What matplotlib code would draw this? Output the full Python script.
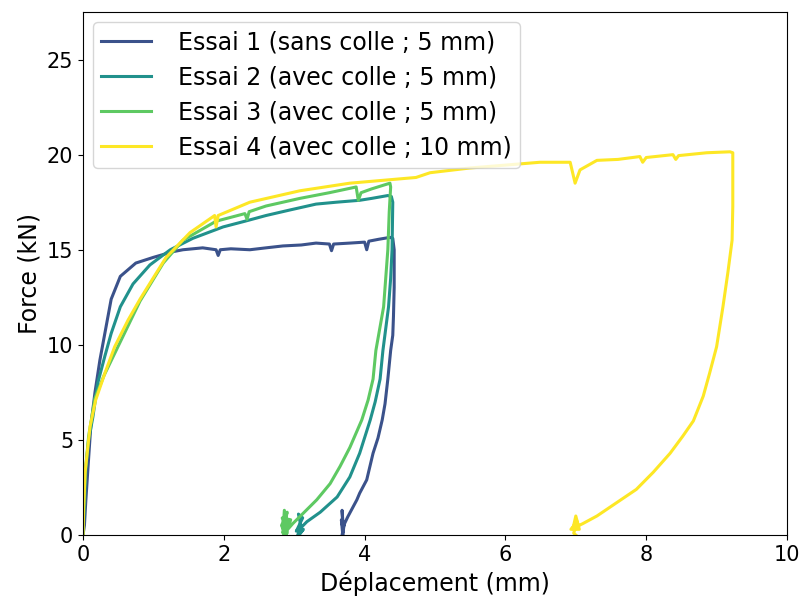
import matplotlib
matplotlib.use("Agg")
import matplotlib.pyplot as plt
import numpy as np

labels = ["Essai 1 (sans colle ; 5 mm)", "Essai 2 (avec colle ; 5 mm)",
          "Essai 3 (avec colle ; 5 mm)", "Essai 4 (avec colle ; 10 mm)"]

# Essai 1
x1 = [0, 0.02, 0.04, 0.07, 0.11, 0.17, 0.24, 0.31, 0.40, 0.53, 0.75, 1.0, 1.28, 1.42,
      1.7, 1.89, 1.92, 1.95, 2.1, 2.37, 2.6, 2.84, 3.1, 3.31, 3.50, 3.53, 3.56, 3.79,
      4.0, 4.03, 4.06, 4.2, 4.36, 4.40, 4.42, 4.42, 4.41, 4.40, 4.37, 4.33, 4.29, 4.25,
      4.19, 4.12, 4.03, 3.93, 3.89, 3.76, 3.69, 3.68, 3.70, 3.67, 3.69, 3.71, 3.68]
F1 = [0, 0.5, 1.8, 3.5, 5.7, 7.5, 9.2, 10.6, 12.4, 13.6, 14.3, 14.6, 14.9, 15.0,
      15.1, 15.0, 14.7, 15.0, 15.05, 15.0, 15.1, 15.2, 15.25, 15.35, 15.3, 14.95, 15.3, 15.35,
      15.4, 15.0, 15.45, 15.55, 15.65, 15.6, 15.0, 13.0, 11.5, 10.5, 9.7, 8.2, 6.9, 6.05,
      5.1, 4.3, 2.9, 2.2, 1.85, 0.95, 0.4, 1.3, 0.2, 0.8, 0.0, 0.6, 0.0]

# Essai 2
x2 = [0, 0.02, 0.04, 0.08, 0.14, 0.21, 0.31, 0.40, 0.53, 0.71, 0.95, 1.24, 1.56,
      1.99, 2.3, 2.6, 2.95, 3.31, 3.6, 3.93, 4.1, 4.33, 4.38, 4.40, 4.39, 4.37,
      4.34, 4.26, 4.22, 4.15, 4.08, 3.93, 3.79, 3.61, 3.37, 3.18, 3.10, 3.06, 3.12,
      3.03, 3.10, 3.05, 3.13, 3.07]
F2 = [0, 1.5, 3.5, 5.0, 6.2, 8.0, 9.4, 10.6, 12.0, 13.2, 14.2, 15.0, 15.6,
      16.2, 16.5, 16.8, 17.1, 17.4, 17.5, 17.6, 17.7, 17.85, 17.8, 17.5, 15.0, 13.5,
      12.0, 9.7, 8.2, 7.0, 6.05, 4.3, 3.05, 2.0, 1.2, 0.7, 0.4, 1.1, 0.9,
      0.2, 0.5, 0.0, 0.3, 0.0]

# Essai 3
x3 = [0, 0.01, 0.03, 0.08, 0.17, 0.30, 0.47, 0.64, 0.81, 1.14, 1.42, 1.89, 2.3,
      2.33, 2.36, 2.6, 3.08, 3.5, 3.88, 3.91, 3.95, 4.1, 4.36, 4.37, 4.35, 4.33,
      4.27, 4.16, 4.12, 4.05, 3.96, 3.79, 3.65, 3.51, 3.32, 3.13, 2.98, 2.92, 2.86,
      2.84, 2.90, 2.82, 2.88, 2.95, 2.83, 2.90, 2.86]
F3 = [0, 1.5, 3.2, 5.2, 7.2, 8.4, 9.7, 11.0, 12.3, 14.3, 15.5, 16.5, 16.9,
      16.6, 17.0, 17.3, 17.7, 18.0, 18.3, 17.6, 18.0, 18.2, 18.5, 18.3, 17.0, 15.0,
      12.0, 9.7, 8.2, 7.1, 6.05, 4.6, 3.6, 2.7, 1.85, 1.15, 0.6, 0.35, 1.3,
      0.1, 1.2, 0.5, 0.0, 0.8, 0.9, 0.1, 0.0]

# Essai 4
x4 = [0, 0.01, 0.03, 0.10, 0.18, 0.31, 0.45, 0.64, 0.81, 1.18, 1.52, 1.87, 1.89,
      1.92, 2.37, 3.08, 3.79, 4.73, 4.93, 5.5, 6.0, 6.49, 6.92, 6.99, 7.06, 7.3, 7.6,
      7.91, 7.95, 8.0, 8.38, 8.42, 8.46, 8.86, 9.19, 9.23, 9.23, 9.22, 9.16, 9.09,
      9.0, 8.9, 8.81, 8.67, 8.52, 8.34, 8.1, 7.86, 7.58, 7.3, 7.1, 6.96, 7.0, 7.05,
      6.93, 7.02, 6.97, 7.0]
F4 = [0, 1.5, 3.3, 5.7, 7.1, 8.5, 9.9, 11.3, 12.4, 14.6, 15.9, 16.8, 16.2,
      16.8, 17.5, 18.1, 18.5, 18.8, 19.05, 19.3, 19.45, 19.6, 19.6, 18.5, 19.2, 19.7, 19.75,
      19.9, 19.6, 19.85, 20.0, 19.75, 19.95, 20.1, 20.15, 20.1, 17.3, 15.5, 13.8, 12.0,
      9.9, 8.5, 7.3, 6.0, 5.2, 4.3, 3.3, 2.4, 1.7, 1.0, 0.6, 0.35, 1.0, 0.3,
      0.3, 0.7, 0.1, 0.0]

series = [(x1, F1), (x2, F2), (x3, F3), (x4, F4)]
colors = plt.cm.viridis(np.linspace(0, 1, 5))[1:]

fig = plt.figure(figsize=(8.02, 6.01), dpi=100)
ax = fig.add_axes([0.1035, 0.1098, 0.8778, 0.8702])
for (x, F), c, lab in zip(series, colors, labels):
    ax.plot(x, F, color=c, lw=2.2, label=lab, solid_joinstyle="round")

ax.set_xlim(0, 10)
ax.set_ylim(0, 27.5)
ax.set_xticks([0, 2, 4, 6, 8, 10])
ax.set_yticks([0, 5, 10, 15, 20, 25])
ax.tick_params(labelsize=15)
ax.set_xlabel("Déplacement (mm)", fontsize=17)
ax.set_ylabel("Force (kN)", fontsize=17)
ax.legend(loc="upper left", fontsize=17, handletextpad=1.15, handlelength=2.1,
          borderaxespad=0.42, labelspacing=0.47, borderpad=0.35)
fig.savefig("out.png", dpi=100)
